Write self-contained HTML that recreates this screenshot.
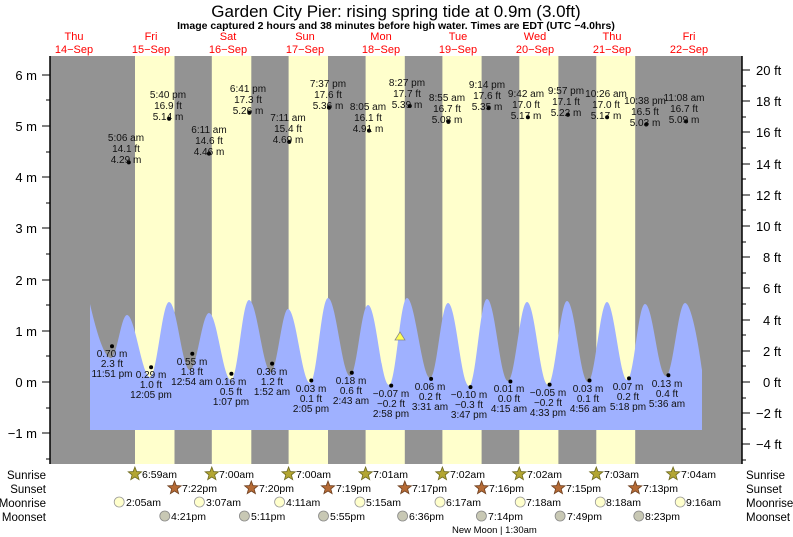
<!DOCTYPE html>
<html><head><meta charset="utf-8"><style>
body{margin:0;background:#fff}
svg{display:block;font-family:"Liberation Sans",sans-serif}
</style></head><body>
<svg width="793" height="537" viewBox="0 0 793 537" xmlns="http://www.w3.org/2000/svg">
<defs>
<polygon id="st" points="0,-7 1.76,-2.43 6.66,-2.16 2.85,0.93 4.11,5.66 0,3 -4.11,5.66 -2.85,0.93 -6.66,-2.16 -1.76,-2.43"/>
</defs>
<text x="396" y="17" font-size="17" text-anchor="middle" fill="#000">Garden City Pier: rising  spring tide at 0.9m (3.0ft)</text>
<text x="396" y="29" font-size="10.5" font-weight="bold" text-anchor="middle">Image captured 2 hours and 38 minutes before high water. Times are EDT (UTC −4.0hrs)</text>
<g font-size="11" fill="#ff0000" text-anchor="middle">
<text x="74" y="40">Thu</text><text x="74" y="53">14−Sep</text>
<text x="151" y="40">Fri</text><text x="151" y="53">15−Sep</text>
<text x="228" y="40">Sat</text><text x="228" y="53">16−Sep</text>
<text x="305" y="40">Sun</text><text x="305" y="53">17−Sep</text>
<text x="381" y="40">Mon</text><text x="381" y="53">18−Sep</text>
<text x="458" y="40">Tue</text><text x="458" y="53">19−Sep</text>
<text x="535" y="40">Wed</text><text x="535" y="53">20−Sep</text>
<text x="612" y="40">Thu</text><text x="612" y="53">21−Sep</text>
<text x="689" y="40">Fri</text><text x="689" y="53">22−Sep</text>
</g>
<rect x="50" y="56" width="692" height="408" fill="#939393"/>
<g fill="#ffffcc">
<rect x="135" y="56" width="39.5" height="408"/>
<rect x="211.8" y="56" width="39.5" height="408"/>
<rect x="288.6" y="56" width="39.4" height="408"/>
<rect x="365.6" y="56" width="39.2" height="408"/>
<rect x="442.4" y="56" width="39.2" height="408"/>
<rect x="519.3" y="56" width="39.1" height="408"/>
<rect x="596.3" y="56" width="38.9" height="408"/>
</g>
<path fill="#9fb1ff" d="M90,304 C96,330 104,358 111,358 C117,358 121,315 127,315 C135,315 142,377 150,377 C157,377 162,302 169,302 C177,302 182,370 190,370 C197,370 202,313 209,313 C217,313 223,380 231,380 C238,380 242,300 249,300 C257,300 263,372 271,372 C277,372 282,309 288,309 C296,309 302,383 310,383 C317,383 321,298 328,298 C336,298 342,376 350,376 C357,376 361,305 368,305 C376,305 381,385 389,385 C396,385 400,298 407,298 C415,298 422,378 430,378 C437,378 441,303 448,303 C456,303 461,386 469,386 C476,386 480,299 487,299 C495,299 500,381 508,381 C515,381 520,302 527,302 C535,302 540,385 548,385 C555,385 560,301 567,301 C575,301 580,382 588,382 C595,382 600,302 607,302 C614,302 620,380 627,380 C634,380 638,304 645,304 C653,304 658,376 666,376 C673,376 678,303 685,303 C691,303 698,340 702,370 L702,430 L90,430 Z"/>
<polygon points="400,332 395,340 405,340" fill="#ffff55" stroke="#888" stroke-width="0.8"/>
<g stroke="#000" stroke-width="1.5"><line x1="50" y1="56" x2="50" y2="464"/><line x1="742" y1="56" x2="742" y2="464"/></g>
<g stroke="#000" stroke-width="1">
<line x1="42" y1="75" x2="50" y2="75"/><line x1="42" y1="126" x2="50" y2="126"/><line x1="42" y1="177" x2="50" y2="177"/><line x1="42" y1="228" x2="50" y2="228"/><line x1="42" y1="280" x2="50" y2="280"/><line x1="42" y1="331" x2="50" y2="331"/><line x1="42" y1="382" x2="50" y2="382"/><line x1="42" y1="433" x2="50" y2="433"/>
<line x1="46" y1="100" x2="50" y2="100"/><line x1="46" y1="152" x2="50" y2="152"/><line x1="46" y1="203" x2="50" y2="203"/><line x1="46" y1="254" x2="50" y2="254"/><line x1="46" y1="305" x2="50" y2="305"/><line x1="46" y1="356" x2="50" y2="356"/><line x1="46" y1="408" x2="50" y2="408"/><line x1="46" y1="459" x2="50" y2="459"/>
<line x1="742" y1="70" x2="750" y2="70"/><line x1="742" y1="101" x2="750" y2="101"/><line x1="742" y1="132" x2="750" y2="132"/><line x1="742" y1="164" x2="750" y2="164"/><line x1="742" y1="195" x2="750" y2="195"/><line x1="742" y1="226" x2="750" y2="226"/><line x1="742" y1="257" x2="750" y2="257"/><line x1="742" y1="288" x2="750" y2="288"/><line x1="742" y1="320" x2="750" y2="320"/><line x1="742" y1="351" x2="750" y2="351"/><line x1="742" y1="382" x2="750" y2="382"/><line x1="742" y1="413" x2="750" y2="413"/><line x1="742" y1="444" x2="750" y2="444"/>
<line x1="742" y1="86" x2="746" y2="86"/><line x1="742" y1="117" x2="746" y2="117"/><line x1="742" y1="148" x2="746" y2="148"/><line x1="742" y1="179" x2="746" y2="179"/><line x1="742" y1="210" x2="746" y2="210"/><line x1="742" y1="242" x2="746" y2="242"/><line x1="742" y1="273" x2="746" y2="273"/><line x1="742" y1="304" x2="746" y2="304"/><line x1="742" y1="335" x2="746" y2="335"/><line x1="742" y1="366" x2="746" y2="366"/><line x1="742" y1="398" x2="746" y2="398"/><line x1="742" y1="429" x2="746" y2="429"/><line x1="742" y1="460" x2="746" y2="460"/>
</g>
<g font-size="13" text-anchor="end">
<text x="37" y="80">6 m</text><text x="37" y="131">5 m</text><text x="37" y="182">4 m</text><text x="37" y="233">3 m</text><text x="37" y="285">2 m</text><text x="37" y="336">1 m</text><text x="37" y="387">0 m</text><text x="37" y="438">−1 m</text>
</g>
<g font-size="13">
<text x="756" y="75">20 ft</text><text x="756" y="106">18 ft</text><text x="756" y="137">16 ft</text><text x="756" y="169">14 ft</text><text x="756" y="200">12 ft</text><text x="756" y="231">10 ft</text><text x="763" y="262">8 ft</text><text x="763" y="293">6 ft</text><text x="763" y="325">4 ft</text><text x="763" y="356">2 ft</text><text x="763" y="387">0 ft</text><text x="756" y="418">−2 ft</text><text x="756" y="449">−4 ft</text>
</g>
<g fill="#000">
<circle cx="128.8" cy="162.4" r="2"/><circle cx="169.1" cy="118.8" r="2"/><circle cx="209" cy="153.6" r="2"/><circle cx="249.3" cy="112.7" r="2"/><circle cx="289.2" cy="141.9" r="2"/><circle cx="329" cy="107.6" r="2"/><circle cx="369" cy="130.6" r="2"/><circle cx="409.8" cy="106" r="2"/><circle cx="448.4" cy="121.9" r="2"/><circle cx="488.7" cy="108.1" r="2"/><circle cx="527.9" cy="117.3" r="2"/><circle cx="567.9" cy="114.7" r="2"/><circle cx="607.1" cy="117.3" r="2"/><circle cx="646.2" cy="124.5" r="2"/><circle cx="686.1" cy="121.4" r="2"/>
<circle cx="112" cy="346.2" r="2"/><circle cx="151.1" cy="367.2" r="2"/><circle cx="192.3" cy="353.8" r="2"/><circle cx="231.4" cy="373.8" r="2"/><circle cx="272.1" cy="363.6" r="2"/><circle cx="311.3" cy="380.5" r="2"/><circle cx="351.8" cy="372.8" r="2"/><circle cx="391.2" cy="385.6" r="2"/><circle cx="431.1" cy="378.9" r="2"/><circle cx="470.5" cy="387.1" r="2"/><circle cx="510.4" cy="381.5" r="2"/><circle cx="549.6" cy="384.6" r="2"/><circle cx="589.5" cy="380.5" r="2"/><circle cx="629" cy="378.4" r="2"/><circle cx="668.4" cy="375.3" r="2"/>
</g>
<g font-size="10" text-anchor="middle" fill="#111">
<text x="126" y="141">5:06 am</text><text x="126" y="152">14.1 ft</text><text x="126" y="163">4.29 m</text>
<text x="168" y="98">5:40 pm</text><text x="168" y="109">16.9 ft</text><text x="168" y="120">5.14 m</text>
<text x="209" y="133">6:11 am</text><text x="209" y="144">14.6 ft</text><text x="209" y="155">4.46 m</text>
<text x="248" y="92">6:41 pm</text><text x="248" y="103">17.3 ft</text><text x="248" y="114">5.26 m</text>
<text x="288" y="121">7:11 am</text><text x="288" y="132">15.4 ft</text><text x="288" y="143">4.69 m</text>
<text x="328" y="87">7:37 pm</text><text x="328" y="98">17.6 ft</text><text x="328" y="109">5.36 m</text>
<text x="368" y="110">8:05 am</text><text x="368" y="121">16.1 ft</text><text x="368" y="132">4.91 m</text>
<text x="407" y="86">8:27 pm</text><text x="407" y="97">17.7 ft</text><text x="407" y="108">5.39 m</text>
<text x="447" y="101">8:55 am</text><text x="447" y="112">16.7 ft</text><text x="447" y="123">5.08 m</text>
<text x="487" y="88">9:14 pm</text><text x="487" y="99">17.6 ft</text><text x="487" y="110">5.35 m</text>
<text x="526" y="97">9:42 am</text><text x="526" y="108">17.0 ft</text><text x="526" y="119">5.17 m</text>
<text x="566" y="94">9:57 pm</text><text x="566" y="105">17.1 ft</text><text x="566" y="116">5.22 m</text>
<text x="606" y="97">10:26 am</text><text x="606" y="108">17.0 ft</text><text x="606" y="119">5.17 m</text>
<text x="645" y="104">10:38 pm</text><text x="645" y="115">16.5 ft</text><text x="645" y="126">5.03 m</text>
<text x="684" y="101">11:08 am</text><text x="684" y="112">16.7 ft</text><text x="684" y="123">5.09 m</text>
<text x="112" y="357">0.70 m</text><text x="112" y="367">2.3 ft</text><text x="112" y="377">11:51 pm</text>
<text x="151" y="378">0.29 m</text><text x="151" y="388">1.0 ft</text><text x="151" y="398">12:05 pm</text>
<text x="192" y="365">0.55 m</text><text x="192" y="375">1.8 ft</text><text x="192" y="385">12:54 am</text>
<text x="231" y="385">0.16 m</text><text x="231" y="395">0.5 ft</text><text x="231" y="405">1:07 pm</text>
<text x="272" y="375">0.36 m</text><text x="272" y="385">1.2 ft</text><text x="272" y="395">1:52 am</text>
<text x="311" y="392">0.03 m</text><text x="311" y="402">0.1 ft</text><text x="311" y="412">2:05 pm</text>
<text x="351" y="384">0.18 m</text><text x="351" y="394">0.6 ft</text><text x="351" y="404">2:43 am</text>
<text x="391" y="397">−0.07 m</text><text x="391" y="407">−0.2 ft</text><text x="391" y="417">2:58 pm</text>
<text x="430" y="390">0.06 m</text><text x="430" y="400">0.2 ft</text><text x="430" y="410">3:31 am</text>
<text x="469" y="398">−0.10 m</text><text x="469" y="408">−0.3 ft</text><text x="469" y="418">3:47 pm</text>
<text x="509" y="392">0.01 m</text><text x="509" y="402">0.0 ft</text><text x="509" y="412">4:15 am</text>
<text x="548" y="396">−0.05 m</text><text x="548" y="406">−0.2 ft</text><text x="548" y="416">4:33 pm</text>
<text x="588" y="392">0.03 m</text><text x="588" y="402">0.1 ft</text><text x="588" y="412">4:56 am</text>
<text x="628" y="390">0.07 m</text><text x="628" y="400">0.2 ft</text><text x="628" y="410">5:18 pm</text>
<text x="667" y="387">0.13 m</text><text x="667" y="397">0.4 ft</text><text x="667" y="407">5:36 am</text>
</g>
<g font-size="11.5" text-anchor="end"><text x="46" y="479">Sunrise</text><text x="46" y="493">Sunset</text><text x="46" y="507">Moonrise</text><text x="46" y="521">Moonset</text></g>
<g font-size="11.5"><text x="746" y="479">Sunrise</text><text x="746" y="493">Sunset</text><text x="746" y="507">Moonrise</text><text x="746" y="521">Moonset</text></g>
<g fill="#b3a632" stroke="#6e6a20" stroke-width="0.8">
<use href="#st" x="134.9" y="474"/><use href="#st" x="211.8" y="474"/><use href="#st" x="288.6" y="474"/><use href="#st" x="365.6" y="474"/><use href="#st" x="442.4" y="474"/><use href="#st" x="519.3" y="474"/><use href="#st" x="596.3" y="474"/><use href="#st" x="673.1" y="474"/>
</g>
<g fill="#b56a35" stroke="#6e4020" stroke-width="0.8">
<use href="#st" x="174.5" y="488"/><use href="#st" x="251.3" y="488"/><use href="#st" x="328" y="488"/><use href="#st" x="404.8" y="488"/><use href="#st" x="481.6" y="488"/><use href="#st" x="558.4" y="488"/><use href="#st" x="635.2" y="488"/>
</g>
<g fill="#ffffcc" stroke="#999" stroke-width="0.8">
<circle cx="119.2" cy="502" r="5"/><circle cx="199.4" cy="502" r="5"/><circle cx="279.6" cy="502" r="5"/><circle cx="359.9" cy="502" r="5"/><circle cx="440" cy="502" r="5"/><circle cx="520.2" cy="502" r="5"/><circle cx="600.3" cy="502" r="5"/><circle cx="680.2" cy="502" r="5"/>
</g>
<g fill="#c8c8b4" stroke="#888" stroke-width="0.8">
<circle cx="164.8" cy="516" r="5"/><circle cx="244.4" cy="516" r="5"/><circle cx="323.5" cy="516" r="5"/><circle cx="402.6" cy="516" r="5"/><circle cx="481.4" cy="516" r="5"/><circle cx="560.1" cy="516" r="5"/><circle cx="638.8" cy="516" r="5"/>
</g>
<g font-size="10.5">
<text x="142" y="478">6:59am</text><text x="219" y="478">7:00am</text><text x="296" y="478">7:00am</text><text x="373" y="478">7:01am</text><text x="450" y="478">7:02am</text><text x="527" y="478">7:02am</text><text x="604" y="478">7:03am</text><text x="681" y="478">7:04am</text>
<text x="182" y="492">7:22pm</text><text x="259" y="492">7:20pm</text><text x="336" y="492">7:19pm</text><text x="412" y="492">7:17pm</text><text x="489" y="492">7:16pm</text><text x="566" y="492">7:15pm</text><text x="643" y="492">7:13pm</text>
<text x="126" y="506">2:05am</text><text x="206" y="506">3:07am</text><text x="286" y="506">4:11am</text><text x="366" y="506">5:15am</text><text x="446" y="506">6:17am</text><text x="526" y="506">7:18am</text><text x="606" y="506">8:18am</text><text x="686" y="506">9:16am</text>
<text x="171" y="520">4:21pm</text><text x="251" y="520">5:11pm</text><text x="330" y="520">5:55pm</text><text x="409" y="520">6:36pm</text><text x="488" y="520">7:14pm</text><text x="567" y="520">7:49pm</text><text x="645" y="520">8:23pm</text>
</g>
<text x="452" y="533" font-size="9.5">New Moon | 1:30am</text>
</svg>
</body></html>
